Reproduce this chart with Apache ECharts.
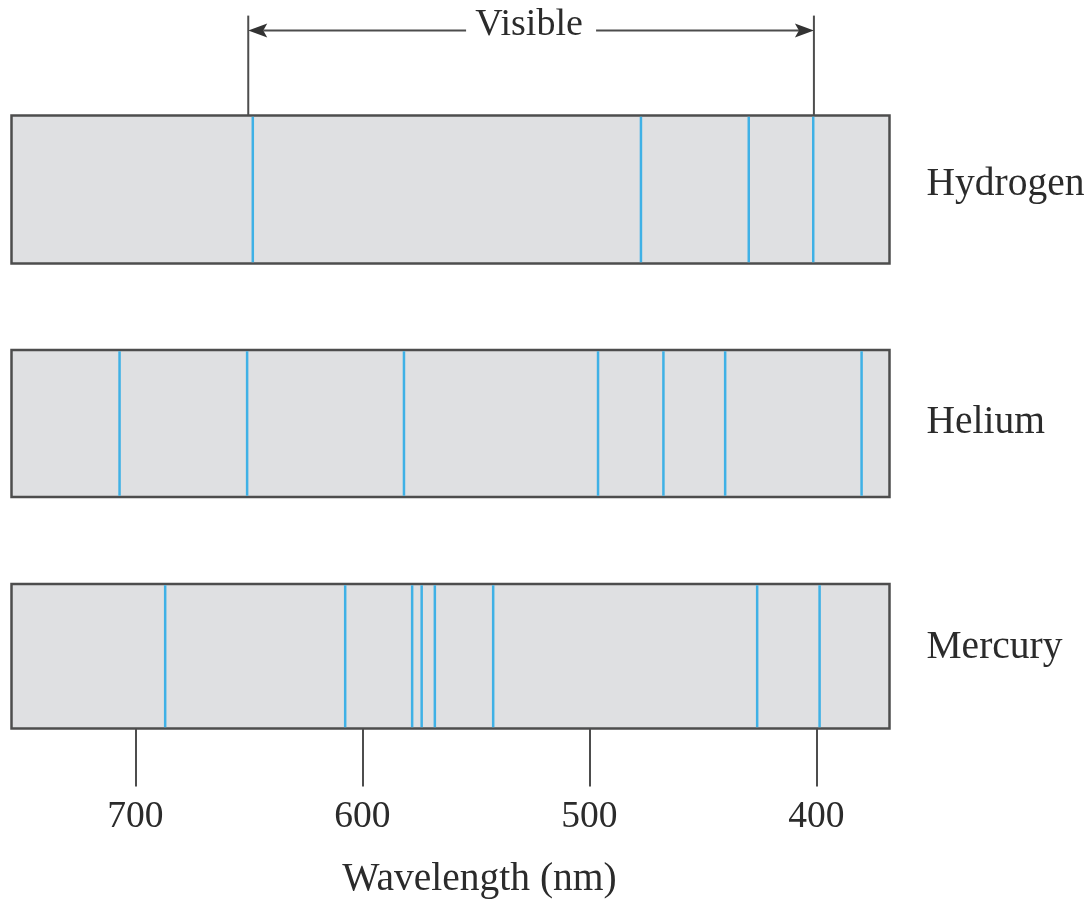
<!DOCTYPE html>
<html><head><meta charset="utf-8">
<script src="https://cdn.jsdelivr.net/npm/echarts@6/dist/echarts.min.js"></script>
<style>html,body{margin:0;padding:0;background:#fff}#c{width:1089px;height:901px}</style>
</head><body><div id="c"></div>
<script>
// ---- data (wavelengths in nm) ----
const elements = ['Hydrogen', 'Helium', 'Mercury'];
const hydrogenLines = [648.3, 477.3, 429.8, 401.4];
const heliumLines = [707.0, 650.8, 581.7, 496.2, 467.4, 440.2, 380.1];
const mercuryLines = [686.9, 607.6, 578.1, 573.9, 568.1, 542.4, 426.1, 398.6];
const visibleRange = [650.3, 401.1];
const tickValues = [700, 600, 500, 400];
const axisTitle = 'Wavelength (nm)';
const visibleLabel = 'Visible';
const spectra = [hydrogenLines, heliumLines, mercuryLines];

// ---- styling / layout ----
const X_MIN = 367.8, X_MAX = 754.6;
const FONT = '"Liberation Serif", "Times New Roman", serif';
const TEXT = '#2b2b2b', FRAME = '#4d4d4d', FILL = '#dfe0e2', BLUE = '#3fb1e6';
const LEFT = 11.5, RIGHT = 199.5;
const boxes = [{top: 115.5, height: 148}, {top: 350, height: 147}, {top: 584, height: 147}];
const nameRaise = [4.5, 1, 8.5];

const chart = echarts.init(document.getElementById('c'), null, {renderer: 'canvas'});

const grids = [{left: LEFT, right: RIGHT, top: 15.6, height: 100, show: false}];
boxes.forEach(b => grids.push({
  left: LEFT, right: RIGHT, top: b.top, height: b.height, show: true,
  backgroundColor: FILL, borderColor: FRAME, borderWidth: 2.5
}));

const xAxes = [], yAxes = [], series = [];
for (let i = 0; i < 4; i++) {
  const ax = {gridIndex: i, type: 'value', min: X_MIN, max: X_MAX, inverse: true, splitLine: {show: false}};
  if (i < 3) {
    ax.show = false;
  } else {
    Object.assign(ax, {
      axisLine: {show: false},
      axisTick: {show: true, customValues: tickValues, length: 58, lineStyle: {color: FRAME, width: 2}},
      axisLabel: {customValues: tickValues, margin: 70, fontSize: 37.5, lineHeight: 37, fontFamily: FONT, color: TEXT},
      name: axisTitle, nameLocation: 'middle', nameGap: 132,
      nameTextStyle: {fontSize: 39.5, lineHeight: 39, fontFamily: FONT, color: TEXT, padding: [0, 0, 0, 58]}
    });
  }
  xAxes.push(ax);
}
yAxes.push({gridIndex: 0, type: 'value', min: 0, max: 1, show: false});
elements.forEach((name, i) => yAxes.push({
  gridIndex: i + 1, type: 'category', data: [name], position: 'right',
  axisLine: {show: false}, axisTick: {show: false}, splitLine: {show: false},
  axisLabel: {margin: 37, fontSize: 39.5, fontFamily: FONT, color: TEXT,
    verticalAlign: 'bottom', lineHeight: 2 * nameRaise[i]}
}));

// visible-range annotation
series.push({
  type: 'custom', xAxisIndex: 0, yAxisIndex: 0, silent: true,
  encode: {x: [0, 1]},
  data: [[visibleRange[0], visibleRange[1]]],
  renderItem: function (params, api) {
    const cs = params.coordSys;
    const xa = api.coord([api.value(0), 0.5])[0];
    const xb = api.coord([api.value(1), 0.5])[0];
    const top = cs.y, bottom = cs.y + cs.height;
    const ya = cs.y + 15;
    const mid = (xa + xb) / 2, gap = 65, al = 19, ah = 7, notch = 15;
    const ls = {stroke: FRAME, lineWidth: 2};
    return {type: 'group', children: [
      {type: 'line', shape: {x1: xa, y1: top, x2: xa, y2: bottom}, style: ls},
      {type: 'line', shape: {x1: xb, y1: top, x2: xb, y2: bottom}, style: ls},
      {type: 'line', shape: {x1: xa + notch, y1: ya, x2: mid - gap, y2: ya}, style: ls},
      {type: 'line', shape: {x1: mid + gap, y1: ya, x2: xb - notch, y2: ya}, style: ls},
      {type: 'polygon', shape: {points: [[xa, ya], [xa + al, ya - ah], [xa + notch, ya], [xa + al, ya + ah]]}, style: {fill: '#333'}},
      {type: 'polygon', shape: {points: [[xb, ya], [xb - al, ya - ah], [xb - notch, ya], [xb - al, ya + ah]]}, style: {fill: '#333'}},
      {type: 'text', x: mid - 2, y: ya - 6, style: {text: visibleLabel, fill: TEXT, fontSize: 38, fontFamily: FONT, align: 'center', verticalAlign: 'middle'}}
    ]};
  }
});

// spectral lines
spectra.forEach((lines, i) => {
  series.push({
    type: 'custom', xAxisIndex: i + 1, yAxisIndex: i + 1, silent: true,
    encode: {x: 0, y: 1},
    data: lines.map(v => [v, 0]),
    renderItem: function (params, api) {
      const cs = params.coordSys;
      const x = api.coord([api.value(0), 0])[0];
      return {type: 'line', shape: {x1: x, y1: cs.y + 1.25, x2: x, y2: cs.y + cs.height - 1.25},
        style: {stroke: BLUE, lineWidth: 2.5}};
    }
  });
});

chart.setOption({
  animation: false,
  backgroundColor: '#fff',
  grid: grids, xAxis: xAxes, yAxis: yAxes, series: series
});
</script></body></html>
